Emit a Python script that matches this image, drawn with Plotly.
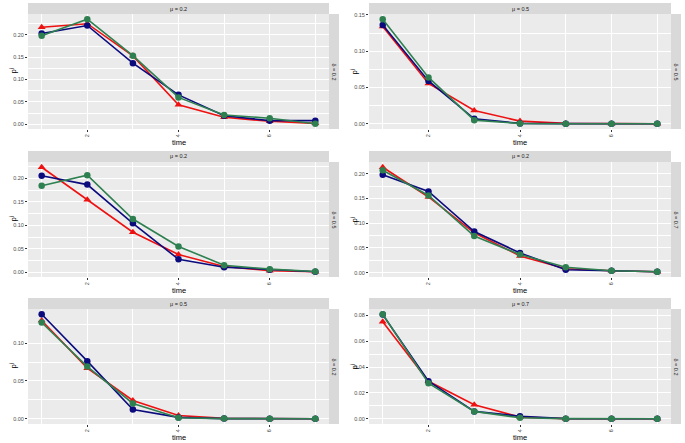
import plotly.graph_objects as go

W, H = 685, 443

time = [1, 2, 3, 4, 5, 6, 7]

mu_labels = ["μ = 0.2", "μ = 0.5", "μ = 0.2", "μ = 0.2", "μ = 0.5", "μ = 0.7"]
delta_labels = ["δ = 0.2", "δ = 0.5", "δ = 0.5", "δ = 0.7", "δ = 0.2", "δ = 0.2"]

red1 = [0.217, 0.225, 0.153, 0.0435, 0.0155, 0.0066, 0.002]
blue1 = [0.203, 0.221, 0.1365, 0.0657, 0.019, 0.008, 0.008]
green1 = [0.198, 0.235, 0.1535, 0.060, 0.0207, 0.0133, 0.001]

red2 = [0.134, 0.0555, 0.0183, 0.0037, 0.0005, 0.0001, 0.0]
blue2 = [0.136, 0.059, 0.0069, 0.0005, 0.0002, 0.0, 0.0]
green2 = [0.144, 0.0638, 0.005, 0.0003, 0.0001, 0.0, 0.0]

red3 = [0.224, 0.155, 0.0856, 0.038, 0.0126, 0.0035, 0.0014]
blue3 = [0.206, 0.187, 0.1046, 0.028, 0.0112, 0.0056, 0.0014]
green3 = [0.1846, 0.207, 0.1137, 0.0554, 0.0154, 0.007, 0.002]

red4 = [0.213, 0.153, 0.0807, 0.034, 0.008, 0.004, 0.002]
blue4 = [0.198, 0.164, 0.0833, 0.040, 0.006, 0.004, 0.002]
green4 = [0.207, 0.156, 0.074, 0.0367, 0.011, 0.004, 0.002]

red5 = [0.130, 0.067, 0.0242, 0.0044, 0.0005, 0.0001, 0.0]
blue5 = [0.1383, 0.0762, 0.0123, 0.0018, 0.0002, 0.0, 0.0]
green5 = [0.1273, 0.069, 0.0203, 0.0013, 0.0002, 0.0, 0.0]

red6 = [0.0749, 0.029, 0.0108, 0.0013, 0.0001, 0.0, 0.0]
blue6 = [0.0805, 0.029, 0.0057, 0.002, 0.0001, 0.0, 0.0]
green6 = [0.0808, 0.0275, 0.0057, 0.0008, 0.0001, 0.0, 0.0]

panels = [(red1, blue1, green1), (red2, blue2, green2), (red3, blue3, green3),
          (red4, blue4, green4), (red5, blue5, green5), (red6, blue6, green6)]
ydticks = [0.05, 0.05, 0.05, 0.05, 0.05, 0.02]

# pixel layout
cols = [(28, 329), (369, 671)]
rows = [(14, 129), (162, 277), (309, 424)]
strip_h = 11
rstrip_w = 10

def px(x):
    return x / W

def py(y):
    return 1 - y / H

RED = "#EE1111"
BLUE = "#0B0B7E"
GREEN = "#2E8050"

FONT = "Liberation Sans, Arial, sans-serif"

fig = go.Figure()
shapes = []
annotations = []
tickfont = dict(family=FONT, size=5.5, color="#4D4D4D")

for i, (r, b, g) in enumerate(panels):
    ri, ci = divmod(i, 2)
    x0, x1 = cols[ci]
    y0, y1 = rows[ri]
    xa = "x" if i == 0 else f"x{i+1}"
    ya = "y" if i == 0 else f"y{i+1}"
    for vals, col, sym in [(r, RED, "triangle-up"), (b, BLUE, "circle"), (g, GREEN, "circle")]:
        fig.add_trace(go.Scatter(
            x=time, y=vals, mode="lines+markers", xaxis=xa, yaxis=ya,
            line=dict(color=col, width=1.6),
            marker=dict(color=col, symbol=sym, size=6.5 if sym == "circle" else 7),
            showlegend=False, hoverinfo="skip"))
    allv = r + b + g
    lo, hi = min(allv), max(allv)
    pad = 0.05 * (hi - lo)
    dt = ydticks[i]
    key = "" if i == 0 else str(i + 1)
    fig.update_layout(**{
        f"xaxis{key}": dict(
            domain=[px(x0), px(x1)], anchor=ya, range=[0.7, 7.3],
            tickmode="array", tickvals=[2, 4, 6], ticktext=["2", "4", "6"],
            tickangle=-90, tickfont=tickfont, ticks="outside", ticklen=2,
            tickcolor="#333333", tickwidth=0.8,
            showgrid=True, gridcolor="white", gridwidth=1,
            minor=dict(tickvals=[1, 3, 5, 7], showgrid=True, gridcolor="white", gridwidth=0.5, ticks=""),
            zeroline=False, showline=False, fixedrange=True, automargin=False),
        f"yaxis{key}": dict(
            domain=[py(y1), py(y0)], anchor=xa, range=[lo - pad, hi + pad],
            tick0=0, dtick=dt, tickformat=".2f", tickfont=tickfont,
            ticks="outside", ticklen=2, tickcolor="#333333", tickwidth=0.8,
            showgrid=True, gridcolor="white", gridwidth=1,
            minor=dict(dtick=dt / 2, tick0=0, showgrid=True, gridcolor="white", gridwidth=0.5, ticks=""),
            zeroline=False, showline=False, fixedrange=True, automargin=False),
    })
    # panel background
    shapes.append(dict(type="rect", xref="paper", yref="paper", x0=px(x0), x1=px(x1),
                       y0=py(y1), y1=py(y0), fillcolor="#EBEBEB", line=dict(width=0), layer="below"))
    # top strip
    shapes.append(dict(type="rect", xref="paper", yref="paper", x0=px(x0), x1=px(x1),
                       y0=py(y0), y1=py(y0 - strip_h), fillcolor="#D9D9D9", line=dict(width=0)))
    annotations.append(dict(xref="paper", yref="paper", x=px((x0 + x1) / 2), y=py(y0 - strip_h / 2),
                            text=mu_labels[i], showarrow=False, xanchor="center", yanchor="middle",
                            font=dict(family=FONT, size=5.5, color="#1A1A1A")))
    # right strip
    shapes.append(dict(type="rect", xref="paper", yref="paper", x0=px(x1), x1=px(x1 + rstrip_w),
                       y0=py(y1), y1=py(y0), fillcolor="#D9D9D9", line=dict(width=0)))
    annotations.append(dict(xref="paper", yref="paper", x=px(x1 + rstrip_w / 2), y=py((y0 + y1) / 2),
                            text=delta_labels[i], showarrow=False, xanchor="center", yanchor="middle",
                            textangle=90,
                            font=dict(family=FONT, size=5.5, color="#1A1A1A")))
    # x title
    annotations.append(dict(xref="paper", yref="paper", x=px((x0 + x1) / 2), y=py(y1 + 13),
                            text="time", showarrow=False, xanchor="center", yanchor="middle",
                            font=dict(family=FONT, size=7.5, color="#000000")))
    # y title
    annotations.append(dict(xref="paper", yref="paper", x=px(x0 - 16), y=py((y0 + y1) / 2),
                            text="p<sup>j</sup>", showarrow=False, xanchor="center", yanchor="middle",
                            textangle=-90,
                            font=dict(family=FONT, size=7.5, color="#000000")))

fig.update_layout(width=W, height=H, margin=dict(l=0, r=0, t=0, b=0),
                  paper_bgcolor="white", plot_bgcolor="rgba(0,0,0,0)",
                  shapes=shapes, annotations=annotations, showlegend=False)

fig.write_html("out.html", config={"displayModeBar": False},
               post_script="document.body.style.margin='0';document.body.style.padding='0';")
